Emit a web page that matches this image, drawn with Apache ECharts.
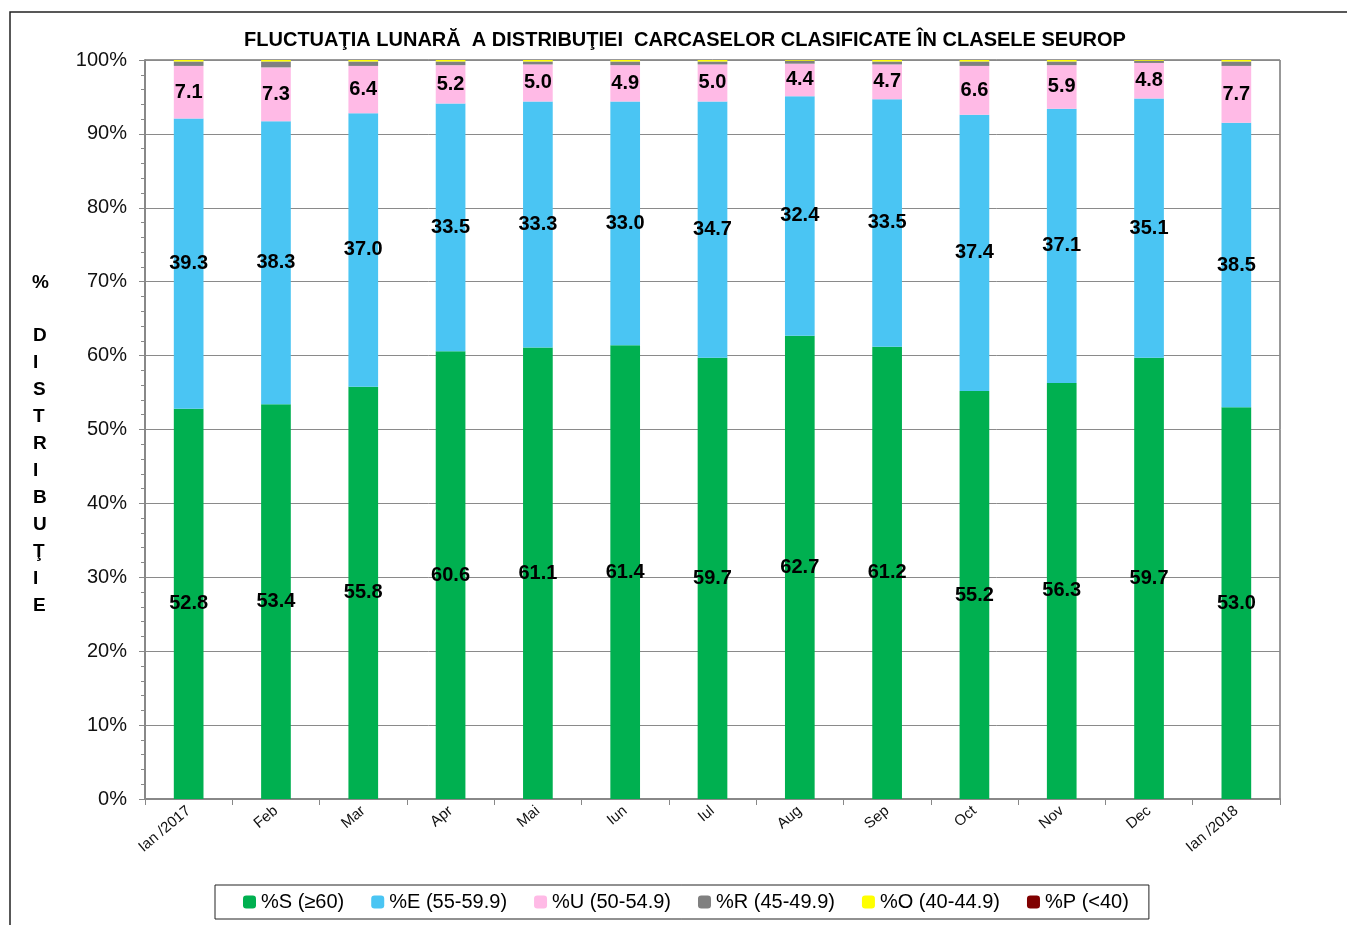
<!DOCTYPE html>
<html lang="ro">

<head>
  <meta charset="UTF-8">
  <title>Fluctuatia lunara SEUROP</title>
  <style>
    * {
      margin: 0;
      padding: 0;
      box-sizing: border-box;
    }

    body {
      background-color: #fff;
    }

    #chart {
      width: 1347px;
      height: 925px;
    }
  </style>
</head>

<body>
  <div id="chart"></div>
  <script src="https://cdn.jsdelivr.net/npm/echarts@6/dist/echarts.min.js"></script>
  <script>
    // luni
    const months = ['Ian /2017', 'Feb', 'Mar', 'Apr', 'Mai', 'Iun', 'Iul', 'Aug', 'Sep', 'Oct', 'Nov', 'Dec', 'Ian /2018']
    // procente pe clase
    const clsS = [52.8, 53.4, 55.8, 60.6, 61.1, 61.4, 59.7, 62.7, 61.2, 55.2, 56.3, 59.7, 53.0]
    const clsE = [39.3, 38.3, 37.0, 33.5, 33.3, 33.0, 34.7, 32.4, 33.5, 37.4, 37.1, 35.1, 38.5]
    const clsU = [7.1, 7.3, 6.4, 5.2, 5.0, 4.9, 5.0, 4.4, 4.7, 6.6, 5.9, 4.8, 7.7]
    const clsR = [0.6, 0.8, 0.6, 0.5, 0.4, 0.5, 0.4, 0.4, 0.4, 0.6, 0.5, 0.3, 0.6]
    const clsO = [0.2, 0.2, 0.2, 0.2, 0.2, 0.2, 0.2, 0.1, 0.2, 0.2, 0.2, 0.1, 0.2]
    const clsP = [0, 0, 0, 0, 0, 0, 0, 0, 0, 0, 0, 0, 0]
    const yTicks = [0, 10, 20, 30, 40, 50, 60, 70, 80, 90, 100]

    const font = 'Arial, "Liberation Sans", sans-serif'

    const chart = echarts.init(document.querySelector('#chart'))

    function makeSeries(name, data, color, withLabel) {
      return {
        name: name,
        type: 'bar',
        stack: 'total',
        data: data,
        barWidth: '34%',
        itemStyle: { color: color },
        label: {
          show: withLabel,
          position: 'inside',
          color: '#000',
          fontFamily: font,
          fontWeight: 'bold',
          fontSize: 20,
          formatter: p => p.value.toFixed(1)
        },
        emphasis: { disabled: true }
      }
    }

    const options = {
      animation: false,
      textStyle: { fontFamily: font },
      title: {
        text: 'FLUCTUAŢIA LUNARĂ  A DISTRIBUŢIEI  CARCASELOR CLASIFICATE ÎN CLASELE SEUROP',
        left: 680,
        top: 25,
        textAlign: 'center',
        textStyle: {
          fontFamily: font,
          fontSize: 20,
          fontWeight: 'bold',
          color: '#000'
        }
      },
      legend: {
        bottom: 6,
        left: 215,
        itemWidth: 13,
        itemHeight: 13,
        itemGap: 27,
        padding: [7, 20, 7, 28],
        borderColor: '#222',
        borderWidth: 1,
        textStyle: { fontSize: 20, color: '#000', fontFamily: font },
        data: ['%S (≥60)', '%E (55-59.9)', '%U (50-54.9)', '%R (45-49.9)', '%O (40-44.9)', '%P (<40)']
      },
      grid: {
        left: 145,
        right: 67,
        top: 60,
        bottom: 126,
        show: true,
        borderColor: '#333',
        borderWidth: 1
      },
      xAxis: {
        type: 'category',
        data: months,
        axisLine: { lineStyle: { color: '#888', width: 2 } },
        axisTick: { show: true, length: 6, lineStyle: { color: '#888' } },
        axisLabel: {
          rotate: 40,
          fontSize: 15,
          color: '#111',
          margin: 10
        }
      },
      yAxis: {
        type: 'value',
        min: 0,
        max: 100,
        interval: 10,
        axisLine: { show: true, lineStyle: { color: '#888', width: 2 } },
        axisTick: { show: true, length: 6, lineStyle: { color: '#888' } },
        minorTick: { show: true, splitNumber: 5, length: 4, lineStyle: { color: '#888' } },
        splitLine: { lineStyle: { color: '#8a8a8a', width: 1 } },
        axisLabel: {
          fontSize: 20,
          color: '#111',
          margin: 18,
          formatter: v => yTicks.includes(v) ? v + '%' : ''
        }
      },
      graphic: [
        {
          type: 'polyline',
          shape: { points: [[10, 925], [10, 12], [1347, 12]] },
          style: { stroke: '#222', lineWidth: 1.5, fill: null }
        },
        {
          type: 'text',
          left: 32,
          top: 273,
          style: { text: '%', font: 'bold 19px ' + font, fill: '#000' }
        },
        {
          type: 'text',
          left: 33,
          top: 322,
          style: {
            text: 'D\nI\nS\nT\nR\nI\nB\nU\nŢ\nI\nE',
            font: 'bold 19px ' + font,
            lineHeight: 27,
            align: 'center',
            fill: '#000'
          }
        }
      ],
      series: [
        makeSeries('%S (≥60)', clsS, '#00B050', true),
        makeSeries('%E (55-59.9)', clsE, '#4AC5F3', true),
        makeSeries('%U (50-54.9)', clsU, '#FFBAE6', true),
        makeSeries('%R (45-49.9)', clsR, '#808080', false),
        makeSeries('%O (40-44.9)', clsO, '#FFFF00', false),
        makeSeries('%P (<40)', clsP, '#800000', false)
      ]
    }

    chart.setOption(options)
  </script>
</body>

</html>
